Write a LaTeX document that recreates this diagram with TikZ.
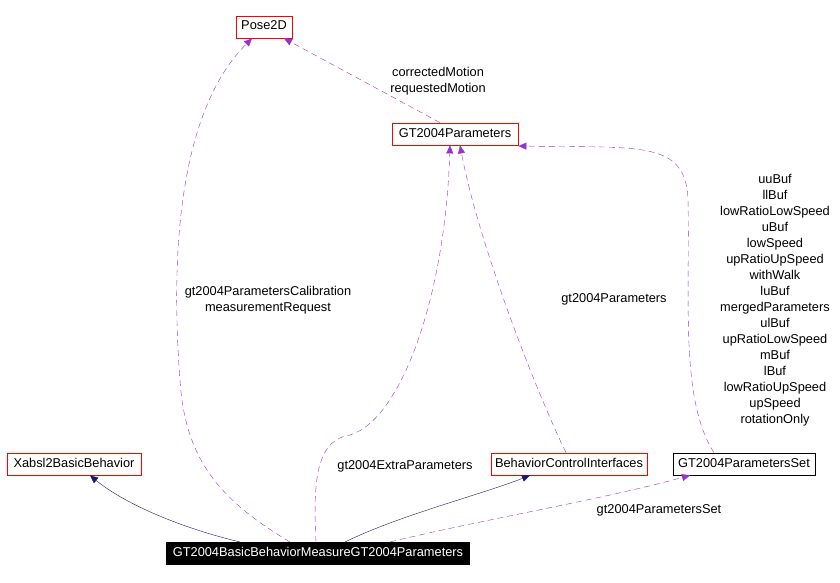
\documentclass[tikz,border=0pt]{standalone}
\usepackage{fontspec}
\setmainfont{Liberation Sans}
\usetikzlibrary{arrows.meta}
\definecolor{edgep}{RGB}{153,50,204}
\definecolor{edgen}{RGB}{25,25,112}
\begin{document}
\begin{tikzpicture}[x=1pt,y=-1pt,font=\fontsize{12.8}{16}\selectfont,
  cls/.style={draw=red,line width=0.8pt,fill=white,inner sep=0pt,minimum height=22pt,text height=9pt,text depth=3pt},
  inh/.style={draw=edgen,-{Triangle[length=8pt,width=7pt]}},
  use/.style={draw=edgep,dashed,dash pattern=on 6pt off 4pt,-{Triangle[length=8pt,width=7pt]}},
  lbl/.style={align=center}]
\useasboundingbox (0,0) rectangle (840,583);
\node[cls,minimum width=56pt] (pose) at (264,27) {Pose2D};
\node[cls,minimum width=126pt] (gtp) at (455,134) {GT2004Parameters};
\node[cls,minimum width=134pt] (xab) at (74,464) {Xabsl2BasicBehavior};
\node[cls,minimum width=156pt] (bci) at (569,464) {BehaviorControlInterfaces};
\node[cls,draw=black,minimum width=142pt] (set) at (744,464) {GT2004ParametersSet};
\node[cls,draw=black,fill=black,text=white,minimum width=303pt] (main) at (318,553) {GT2004BasicBehaviorMeasureGT2004Parameters};
\coordinate (m1) at (240,542);
\coordinate (m2) at (345,542);
\coordinate (m3) at (390,542);
\coordinate (m4) at (290,542);
\coordinate (m5) at (316,542);
\draw[inh] (m1) .. controls (170,525) and (120,500) .. (xab.south -| 90,0);
\draw[inh] (m2) .. controls (400,515) and (480,495) .. (bci.south -| 530,0);
\draw[use] (m3) .. controls (480,520) and (600,500) .. (set.south -| 690,0);
\node[lbl] at (659,510) {gt2004ParametersSet};
\draw[use] (m4) .. controls (220,500) and (185,460) .. (180,380) .. controls (170,250) and (180,110) .. (pose.south -| 252,0);
\node[lbl] at (268,300) {gt2004ParametersCalibration\\measurementRequest};
\draw[use] (m5) .. controls (312,470) and (320,440) .. (350,435) .. controls (400,420) and (445,300) .. (gtp.south -| 450,0);
\node[lbl] at (405,466) {gt2004ExtraParameters};
\draw[use] (bci.north -| 566,0) .. controls (540,400) and (480,250) .. (gtp.south -| 460,0);
\node[lbl] at (614,299) {gt2004Parameters};
\draw[use] (set.north -| 714,0) .. controls (680,400) and (690,300) .. (688,200) .. controls (686,140) and (640,148) .. (gtp.east |- 0,146);
\node[lbl] at (775,300) {uuBuf\\llBuf\\lowRatioLowSpeed\\uBuf\\lowSpeed\\upRatioUpSpeed\\withWalk\\luBuf\\mergedParameters\\ulBuf\\upRatioLowSpeed\\mBuf\\lBuf\\lowRatioUpSpeed\\upSpeed\\rotationOnly};
\draw[use] (gtp.north -| 440,0) -- (pose.south -| 284,0);
\node[lbl] at (438,81) {correctedMotion\\requestedMotion};
\end{tikzpicture}
\end{document}
